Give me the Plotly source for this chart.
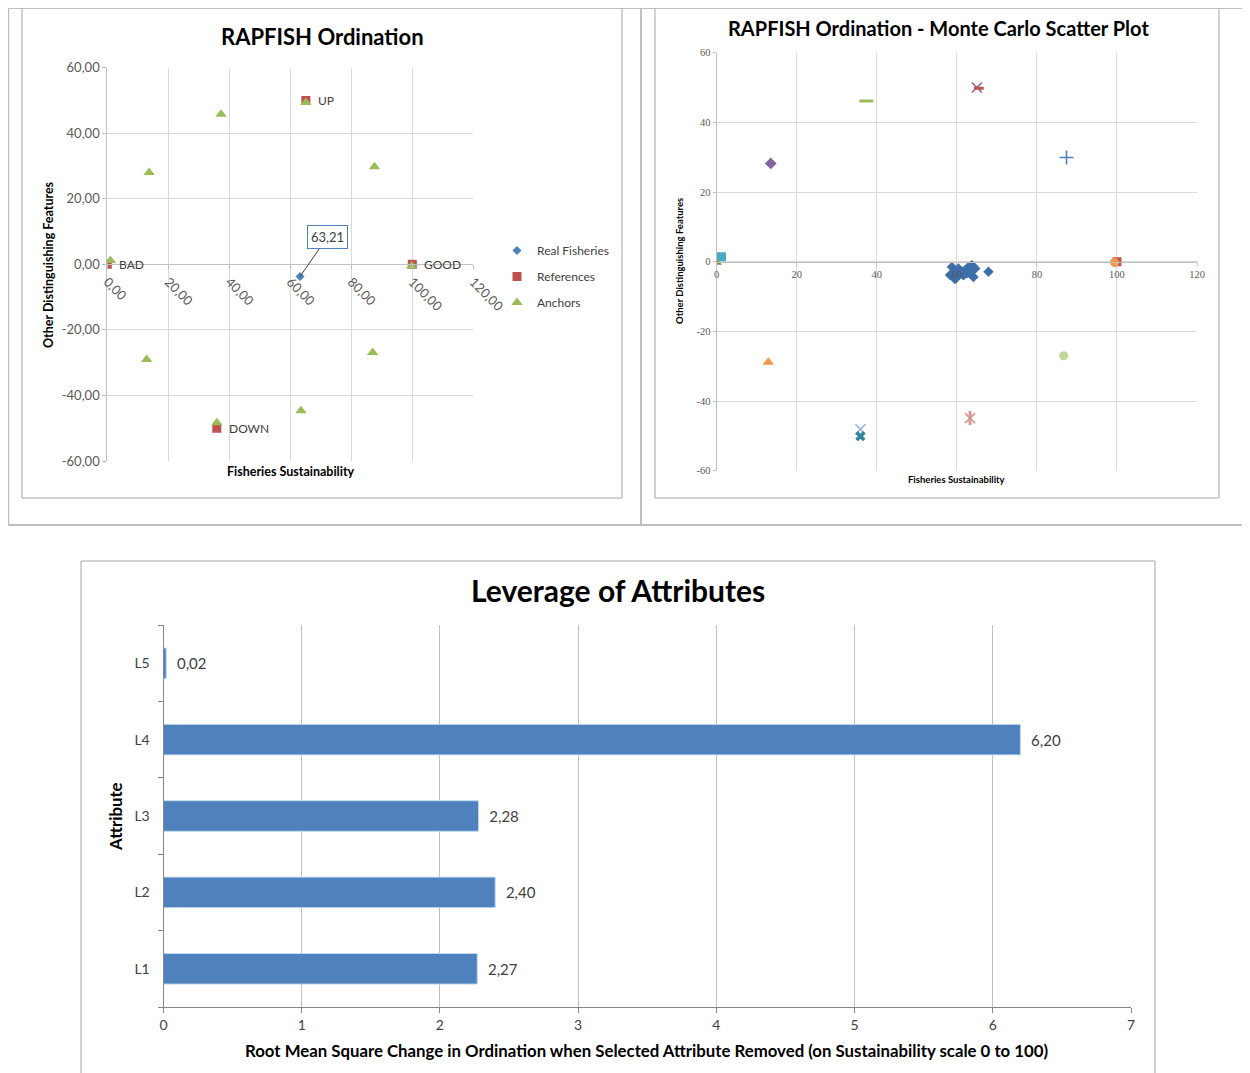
import plotly.graph_objects as go

# The page body has an 8px margin, so the figure is offset by 8px in both directions.
OX, OY = 8, 8
W, H = 1250 - OX, 1073 - OY


def px(x):
    return (x - OX) / W


def py(y):
    return 1 - (y - OY) / H


# ---------------- Chart 1: RAPFISH Ordination ----------------
real_x = [63.21]
real_y = [-3.7]
ref_names = ["BAD", "GOOD", "UP", "DOWN"]
ref_x = [0.0, 100.0, 65.1, 35.9]
ref_y = [0.0, 0.0, 50.0, -50.0]
anchor_x = [1.0, 13.7, 37.3, 65.1, 87.6, 99.8, 87.0, 63.5, 35.9, 12.9]
anchor_y = [1.2, 28.0, 45.8, 49.4, 29.8, -0.5, -26.9, -44.7, -48.3, -29.0]

x_ticks = [0, 20, 40, 60, 80, 100, 120]
y_ticks = [-60, -40, -20, 0, 20, 40, 60]
x_ticklabels_1 = ["0,00", "20,00", "40,00", "60,00", "80,00", "100,00", "120,00"]
y_ticklabels_1 = ["-60,00", "-40,00", "-20,00", "0,00", "20,00", "40,00", "60,00"]
x_ticklabels_2 = ["0", "20", "40", "60", "80", "100", "120"]
y_ticklabels_2 = ["-60", "-40", "-20", "0", "20", "40", "60"]

# ---------------- Chart 2: Monte Carlo scatter ----------------
mc_x = [58.75, 59.15, 59.6, 60.4, 61.25, 62.1, 62.9, 63.3, 64.15, 64.6, 63.75,
        59.75, 61.65, 67.9, 58.3, 59.5, 62.5, 63.5, 60.8]
mc_y = [-1.5, -3.9, -2.4, -1.95, -2.9, -2.4, -1.5, -3.4, -4.4, -1.95, -1.0,
        -4.8, -3.9, -2.9, -3.8, -5.0, -3.3, -2.5, -3.3]
other_x = [13.5, 37.4, 65.0, 65.5, 87.4, 1.2, 0.0, 100.0, 99.4, 12.9, 86.7, 63.3, 63.3, 35.9, 35.9]
other_y = [28.2, 46.1, 50.0, 49.8, 29.9, 1.4, -0.2, 0.0, -0.2, -28.9, -27.0, -44.9, -44.9, -48.1, -50.1]
other_symbol = ["diamond", "line-ew", "x-thin", "line-ew", "cross-thin", "square", "triangle-up",
                "square", "circle", "triangle-up", "circle", "x-thin", "line-ns", "x-thin", "x"]
other_color = ["#8064a2", "#9bbb59", "#8064a2", "#c0504d", "#4f81bd", "#4bacc6", "#77933c",
               "#c0504d", "#f79646", "#f79646", "#c3d69b", "#d99694", "#d99694", "#95b3d7", "#31859c"]
other_size = [9, 10, 10, 7, 10, 9, 9, 9, 9, 10, 9, 10, 10, 10, 9]

# ---------------- Chart 3: Leverage of Attributes ----------------
attributes = ["L1", "L2", "L3", "L4", "L5"]
leverage = [2.27, 2.40, 2.28, 6.20, 0.02]

FONT = "Lato"
TXT = "#404040"
GRID = "#d9d9d9"
AXL = "#868686"

fig = go.Figure()

# Chart 1 traces
fig.add_trace(go.Scatter(x=real_x, y=real_y, mode="markers", name="Real Fisheries",
                         legendgroup="a",
                         marker=dict(symbol="diamond", size=7, color="#4f81bd"),
                         xaxis="x", yaxis="y"))
fig.add_trace(go.Scatter(x=ref_x, y=ref_y, mode="markers", name="References",
                         legendgroup="b",
                         marker=dict(symbol="square", size=9, color="#c0504d"),
                         xaxis="x", yaxis="y"))
fig.add_trace(go.Scatter(x=anchor_x, y=anchor_y, mode="markers", name="Anchors",
                         legendgroup="c",
                         marker=dict(symbol="triangle-up", size=10, color="#9bbb59"),
                         xaxis="x", yaxis="y"))
for name, xv, yv in zip(ref_names, ref_x, ref_y):
    fig.add_annotation(x=xv, y=yv, xref="x", yref="y", text=name, showarrow=False,
                       xanchor="left", yanchor="middle", xshift=10,
                       font=dict(size=12, color=TXT, family=FONT))

# Chart 2 traces
fig.add_trace(go.Scatter(x=mc_x, y=mc_y, mode="markers", showlegend=False,
                         marker=dict(symbol="diamond", size=8, color="#3d6ea8"),
                         xaxis="x2", yaxis="y2"))
for xv, yv, sym, col, sz in zip(other_x, other_y, other_symbol, other_color, other_size):
    lw = 3 if sym.startswith("line") else (1.6 if "thin" in sym else 0)
    fig.add_trace(go.Scatter(x=[xv], y=[yv], mode="markers", showlegend=False,
                             marker=dict(symbol=sym, size=sz, color=col,
                                         line=dict(color=col, width=lw)),
                             xaxis="x2", yaxis="y2"))

# Chart 3 bars
fig.add_trace(go.Bar(x=leverage, y=attributes, orientation="h", showlegend=False,
                     marker=dict(color="#4f81bd", line=dict(color="#c6d9f1", width=1)),
                     texttemplate="\u00a0\u00a0%{x:.2f}", textposition="outside",
                     textfont=dict(size=15, color=TXT, family=FONT), cliponaxis=False,
                     xaxis="x3", yaxis="y3"))

zero1 = py(67.7 + (461 - 67.7) / 2)
zero2 = py(52.7 + (470.7 - 52.7) / 2)

fig.update_layout(
    width=W, height=H, autosize=False,
    margin=dict(l=0, r=0, t=0, b=0, pad=0, autoexpand=False),
    paper_bgcolor="white", plot_bgcolor="white",
    separators=",.",
    font=dict(family=FONT, color=TXT),
    bargap=0.6,
    xaxis=dict(domain=[px(107.3), px(473.3)], range=[0, 120],
               tickmode="array", tickvals=x_ticks, ticktext=x_ticklabels_1,
               anchor="free", position=zero1, tickangle=45, automargin=False,
               showgrid=True, gridcolor=GRID, zeroline=False,
               showline=True, linecolor="#bfbfbf", ticks="outside", ticklen=4, tickcolor="#bfbfbf",
               tickfont=dict(size=13, color="#595959")),
    yaxis=dict(domain=[py(461), py(67.7)], range=[-60, 60],
               tickmode="array", tickvals=y_ticks, ticktext=y_ticklabels_1,
               anchor="x", automargin=False, showgrid=True, gridcolor=GRID, zeroline=False,
               showline=True, linecolor="#bfbfbf", ticks="outside", ticklen=4, tickcolor="#bfbfbf",
               tickfont=dict(size=13, color="#595959")),
    xaxis2=dict(domain=[px(716.7), px(1197)], range=[0, 120],
                tickmode="array", tickvals=x_ticks, ticktext=x_ticklabels_2,
                anchor="free", position=zero2, automargin=False,
                showgrid=True, gridcolor=GRID, zeroline=False,
                showline=True, linecolor="#bfbfbf", ticks="outside", ticklen=3, tickcolor="#bfbfbf",
                tickfont=dict(size=10.5, color="#595959", family="Liberation Serif")),
    yaxis2=dict(domain=[py(470.7), py(52.7)], range=[-60, 60],
                tickmode="array", tickvals=y_ticks, ticktext=y_ticklabels_2,
                anchor="x2", automargin=False, showgrid=True, gridcolor=GRID, zeroline=False,
                showline=True, linecolor="#bfbfbf", ticks="outside", ticklen=3, tickcolor="#bfbfbf",
                tickfont=dict(size=10.5, color="#595959", family="Liberation Serif")),
    xaxis3=dict(domain=[px(163.5), px(1131)], range=[0, 7], dtick=1,
                anchor="y3", automargin=False, showgrid=True, gridcolor="#bfbfbf", zeroline=False,
                showline=True, linecolor=AXL, ticks="outside", ticklen=5, tickcolor=AXL,
                tickfont=dict(size=14, color=TXT)),
    yaxis3=dict(domain=[py(1007), py(625)], anchor="x3", type="category", automargin=False,
                categoryorder="array", categoryarray=attributes,
                showgrid=False, showline=True, linecolor=AXL, ticks="outside",
                tickson="boundaries", ticklen=5, tickcolor=AXL, ticklabelstandoff=10,
                tickfont=dict(size=14, color=TXT)),
    legend=dict(x=px(497), y=py(236), xanchor="left", yanchor="top",
                traceorder="grouped", tracegroupgap=7,
                font=dict(size=12, color=TXT, family=FONT), bgcolor="rgba(0,0,0,0)",
                itemwidth=30),
)

# label for the real fishery
fig.add_annotation(x=real_x[0], y=real_y[0], xref="x", yref="y",
                   text=f"{real_x[0]:.2f}".replace(".", ","),
                   showarrow=True, arrowhead=0, arrowwidth=1, arrowcolor="#404040",
                   ax=27, ay=-39, bordercolor="#4f81bd", borderwidth=1, borderpad=3,
                   bgcolor="white", font=dict(size=13, color=TXT))


def ann(text, x, y, size, angle=0, bold=True, color="black"):
    fig.add_annotation(x=px(x), y=py(y), xref="paper", yref="paper", text=text,
                       showarrow=False, textangle=angle, xanchor="center", yanchor="middle",
                       font=dict(size=size, color=color, family=FONT,
                                 weight="bold" if bold else "normal"))


ann("RAPFISH Ordination", 322, 36, 22)
ann("RAPFISH Ordination - Monte Carlo Scatter Plot", 938, 28, 20)
ann("Leverage of Attributes", 618, 590, 30)
ann("Fisheries Sustainability", 291, 472, 12.5)
ann("Other Distinguishing Features", 48, 265, 12.5, angle=-90)
ann("Fisheries Sustainability", 957, 479, 9.5)
ann("Other Distinguishing Features", 679, 261, 9.5, angle=-90)
ann("Root Mean Square Change in Ordination when Selected Attribute Removed (on Sustainability scale 0 to 100)",
    647, 1050, 16.8)
ann("Attribute", 115, 816, 16.8, angle=-90)


def line(x0, y0, x1, y1, color, width):
    fig.add_shape(type="line", xref="paper", yref="paper",
                  x0=px(x0), y0=py(y0), x1=px(x1), y1=py(y1),
                  line=dict(color=color, width=width), layer="above")


OUT = "#bfbfbf"
FR = "#a6a6a6"
# outer frame
line(8.5, 8.5, 8.5, 525, OUT, 1.5)
line(8.5, 8.5, 1250, 8.5, OUT, 1)
line(641, 8.5, 641, 525, OUT, 2)
line(8.5, 525, 1250, 525, OUT, 2)
# chart frames
for (x0, y0, x1, y1) in [(22, 8.5, 622, 498), (655, 8.5, 1219, 498)]:
    line(x0, y0, x0, y1, FR, 1)
    line(x0, y1, x1, y1, FR, 1)
    line(x1, y0, x1, y1, FR, 1)
line(81, 561, 81, 1073, FR, 1)
line(81, 561, 1155, 561, FR, 1)
line(1155, 561, 1155, 1073, FR, 1)

fig.write_html("out.html")
